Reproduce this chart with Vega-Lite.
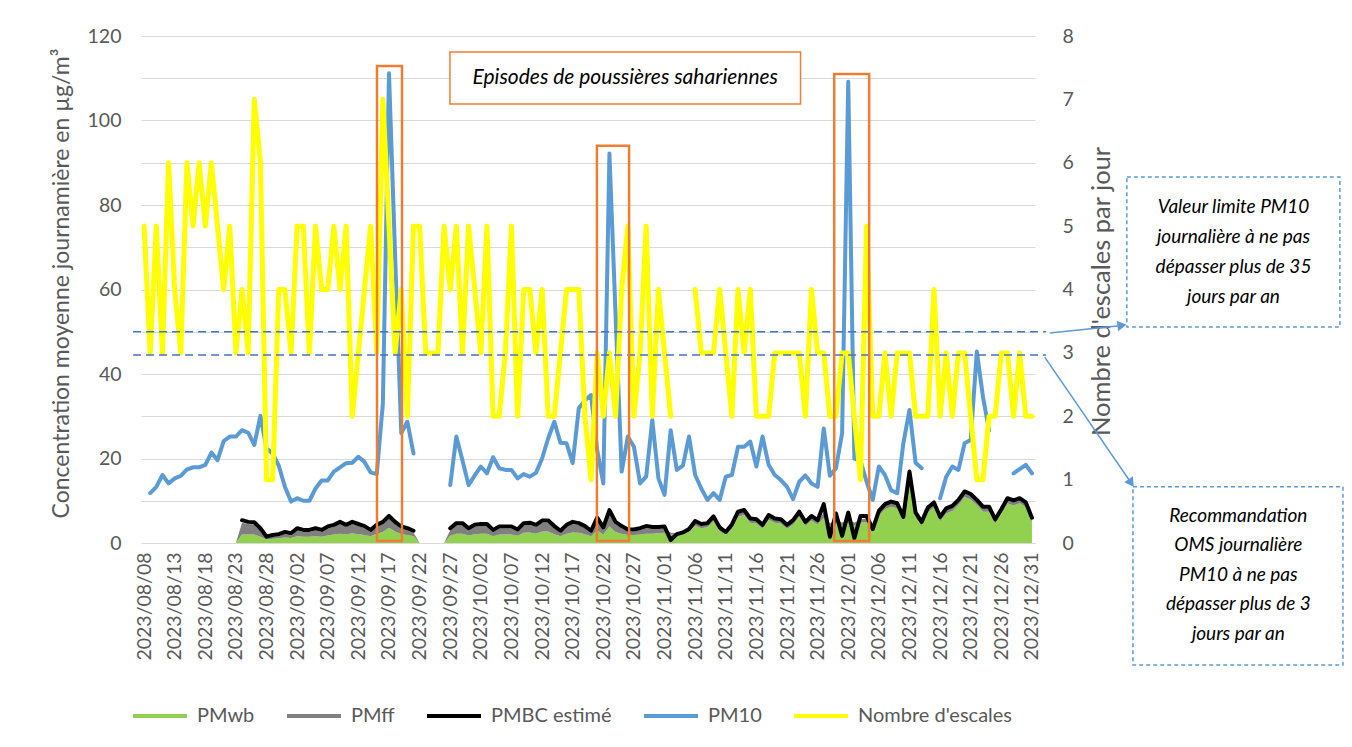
{
"$schema": "https://vega.github.io/schema/vega-lite/v6.json",
"width": 894, "height": 507,
"autosize": {"type": "none"},
"padding": {"left": 141, "top": 36, "right": 317, "bottom": 204},
"background": "white",
"config": {"font": "Lato", "view": {"stroke": null}},
"datasets": {"jours": [
{"d":"2023/08/08","PMwb":0,"PMff":0,"PMBC":null,"PM10":null,"esc":5},
{"d":"2023/08/09","PMwb":0,"PMff":0,"PMBC":null,"PM10":11.8,"esc":3},
{"d":"2023/08/10","PMwb":0,"PMff":0,"PMBC":null,"PM10":13.3,"esc":5},
{"d":"2023/08/11","PMwb":0,"PMff":0,"PMBC":null,"PM10":16.1,"esc":3},
{"d":"2023/08/12","PMwb":0,"PMff":0,"PMBC":null,"PM10":14.1,"esc":6},
{"d":"2023/08/13","PMwb":0,"PMff":0,"PMBC":null,"PM10":15.3,"esc":4},
{"d":"2023/08/14","PMwb":0,"PMff":0,"PMBC":null,"PM10":15.9,"esc":3},
{"d":"2023/08/15","PMwb":0,"PMff":0,"PMBC":null,"PM10":17.4,"esc":6},
{"d":"2023/08/16","PMwb":0,"PMff":0,"PMBC":null,"PM10":17.9,"esc":5},
{"d":"2023/08/17","PMwb":0,"PMff":0,"PMBC":null,"PM10":17.9,"esc":6},
{"d":"2023/08/18","PMwb":0,"PMff":0,"PMBC":null,"PM10":18.5,"esc":5},
{"d":"2023/08/19","PMwb":0,"PMff":0,"PMBC":null,"PM10":21.4,"esc":6},
{"d":"2023/08/20","PMwb":0,"PMff":0,"PMBC":null,"PM10":19.6,"esc":5},
{"d":"2023/08/21","PMwb":0,"PMff":0,"PMBC":null,"PM10":24.1,"esc":4},
{"d":"2023/08/22","PMwb":0,"PMff":0,"PMBC":null,"PM10":25.2,"esc":5},
{"d":"2023/08/23","PMwb":0,"PMff":0,"PMBC":null,"PM10":25.2,"esc":3},
{"d":"2023/08/24","PMwb":2.0,"PMff":2.8,"PMBC":5.4,"PM10":26.7,"esc":4},
{"d":"2023/08/25","PMwb":2.0,"PMff":2.5,"PMBC":5.0,"PM10":26.1,"esc":3},
{"d":"2023/08/26","PMwb":2.0,"PMff":2.4,"PMBC":4.9,"PM10":23.2,"esc":7},
{"d":"2023/08/27","PMwb":1.5,"PMff":1.5,"PMBC":3.5,"PM10":30.1,"esc":6},
{"d":"2023/08/28","PMwb":0.8,"PMff":0.3,"PMBC":1.5,"PM10":22.4,"esc":1},
{"d":"2023/08/29","PMwb":1.0,"PMff":0.5,"PMBC":1.9,"PM10":21.2,"esc":1},
{"d":"2023/08/30","PMwb":1.1,"PMff":0.6,"PMBC":2.1,"PM10":18.3,"esc":4},
{"d":"2023/08/31","PMwb":1.3,"PMff":0.8,"PMBC":2.6,"PM10":13.3,"esc":4},
{"d":"2023/09/01","PMwb":1.2,"PMff":0.6,"PMBC":2.3,"PM10":9.8,"esc":3},
{"d":"2023/09/02","PMwb":1.6,"PMff":1.4,"PMBC":3.5,"PM10":10.6,"esc":5},
{"d":"2023/09/03","PMwb":1.5,"PMff":1.1,"PMBC":3.1,"PM10":10.0,"esc":5},
{"d":"2023/09/04","PMwb":1.5,"PMff":1.1,"PMBC":3.1,"PM10":10.0,"esc":3},
{"d":"2023/09/05","PMwb":1.6,"PMff":1.4,"PMBC":3.5,"PM10":12.9,"esc":5},
{"d":"2023/09/06","PMwb":1.5,"PMff":1.1,"PMBC":3.1,"PM10":14.8,"esc":4},
{"d":"2023/09/07","PMwb":1.8,"PMff":1.6,"PMBC":3.9,"PM10":14.8,"esc":4},
{"d":"2023/09/08","PMwb":2.0,"PMff":1.8,"PMBC":4.3,"PM10":16.9,"esc":5},
{"d":"2023/09/09","PMwb":2.2,"PMff":2.3,"PMBC":5.0,"PM10":17.9,"esc":4},
{"d":"2023/09/10","PMwb":2.0,"PMff":1.8,"PMBC":4.3,"PM10":18.9,"esc":5},
{"d":"2023/09/11","PMwb":2.3,"PMff":2.2,"PMBC":5.0,"PM10":19.0,"esc":2},
{"d":"2023/09/12","PMwb":2.1,"PMff":1.9,"PMBC":4.5,"PM10":20.4,"esc":3},
{"d":"2023/09/13","PMwb":1.9,"PMff":1.6,"PMBC":4.0,"PM10":19.2,"esc":4},
{"d":"2023/09/14","PMwb":1.6,"PMff":1.0,"PMBC":3.1,"PM10":16.7,"esc":5},
{"d":"2023/09/15","PMwb":2.2,"PMff":1.6,"PMBC":4.3,"PM10":16.3,"esc":3},
{"d":"2023/09/16","PMwb":2.6,"PMff":1.9,"PMBC":5.0,"PM10":33.0,"esc":7},
{"d":"2023/09/17","PMwb":3.6,"PMff":2.3,"PMBC":6.4,"PM10":111.2,"esc":5},
{"d":"2023/09/18","PMwb":2.7,"PMff":1.8,"PMBC":5.0,"PM10":68.0,"esc":3},
{"d":"2023/09/19","PMwb":2.1,"PMff":1.3,"PMBC":3.9,"PM10":26.0,"esc":4},
{"d":"2023/09/20","PMwb":1.9,"PMff":1.1,"PMBC":3.5,"PM10":28.7,"esc":2},
{"d":"2023/09/21","PMwb":1.6,"PMff":0.8,"PMBC":2.9,"PM10":21.2,"esc":5},
{"d":"2023/09/22","PMwb":0,"PMff":0,"PMBC":null,"PM10":null,"esc":5},
{"d":"2023/09/23","PMwb":0,"PMff":0,"PMBC":null,"PM10":null,"esc":3},
{"d":"2023/09/24","PMwb":0,"PMff":0,"PMBC":null,"PM10":null,"esc":3},
{"d":"2023/09/25","PMwb":0,"PMff":0,"PMBC":null,"PM10":null,"esc":3},
{"d":"2023/09/26","PMwb":0,"PMff":0,"PMBC":null,"PM10":null,"esc":5},
{"d":"2023/09/27","PMwb":1.7,"PMff":1.3,"PMBC":3.5,"PM10":13.7,"esc":4},
{"d":"2023/09/28","PMwb":2.2,"PMff":2.0,"PMBC":4.7,"PM10":25.2,"esc":5},
{"d":"2023/09/29","PMwb":2.2,"PMff":2.0,"PMBC":4.7,"PM10":19.5,"esc":3},
{"d":"2023/09/30","PMwb":1.8,"PMff":1.2,"PMBC":3.5,"PM10":13.7,"esc":5},
{"d":"2023/10/01","PMwb":2.1,"PMff":1.7,"PMBC":4.3,"PM10":16.0,"esc":4},
{"d":"2023/10/02","PMwb":2.2,"PMff":1.8,"PMBC":4.5,"PM10":18.1,"esc":3},
{"d":"2023/10/03","PMwb":2.2,"PMff":1.8,"PMBC":4.5,"PM10":16.5,"esc":5},
{"d":"2023/10/04","PMwb":1.6,"PMff":1.0,"PMBC":3.1,"PM10":20.3,"esc":2},
{"d":"2023/10/05","PMwb":2.0,"PMff":1.4,"PMBC":3.9,"PM10":17.7,"esc":2},
{"d":"2023/10/06","PMwb":2.0,"PMff":1.4,"PMBC":3.9,"PM10":17.3,"esc":3},
{"d":"2023/10/07","PMwb":2.0,"PMff":1.4,"PMBC":3.9,"PM10":17.3,"esc":5},
{"d":"2023/10/08","PMwb":1.7,"PMff":1.0,"PMBC":3.2,"PM10":15.3,"esc":2},
{"d":"2023/10/09","PMwb":2.4,"PMff":1.8,"PMBC":4.7,"PM10":16.3,"esc":4},
{"d":"2023/10/10","PMwb":2.5,"PMff":1.8,"PMBC":4.8,"PM10":15.7,"esc":4},
{"d":"2023/10/11","PMwb":2.2,"PMff":1.6,"PMBC":4.3,"PM10":16.6,"esc":3},
{"d":"2023/10/12","PMwb":2.7,"PMff":2.1,"PMBC":5.3,"PM10":20.0,"esc":4},
{"d":"2023/10/13","PMwb":2.7,"PMff":2.1,"PMBC":5.3,"PM10":24.8,"esc":2},
{"d":"2023/10/14","PMwb":2.1,"PMff":1.4,"PMBC":4.0,"PM10":28.7,"esc":2},
{"d":"2023/10/15","PMwb":1.6,"PMff":0.8,"PMBC":2.9,"PM10":23.7,"esc":3},
{"d":"2023/10/16","PMwb":2.2,"PMff":1.6,"PMBC":4.3,"PM10":23.6,"esc":4},
{"d":"2023/10/17","PMwb":2.5,"PMff":2.0,"PMBC":5.0,"PM10":18.9,"esc":4},
{"d":"2023/10/18","PMwb":2.4,"PMff":1.8,"PMBC":4.7,"PM10":31.9,"esc":4},
{"d":"2023/10/19","PMwb":2.1,"PMff":1.4,"PMBC":4.0,"PM10":33.8,"esc":2},
{"d":"2023/10/20","PMwb":1.6,"PMff":0.8,"PMBC":2.9,"PM10":35.0,"esc":1},
{"d":"2023/10/21","PMwb":3.0,"PMff":2.5,"PMBC":6.0,"PM10":22.0,"esc":3},
{"d":"2023/10/22","PMwb":2.0,"PMff":1.2,"PMBC":3.7,"PM10":14.1,"esc":2},
{"d":"2023/10/23","PMwb":3.9,"PMff":3.4,"PMBC":7.8,"PM10":92.2,"esc":3},
{"d":"2023/10/24","PMwb":2.6,"PMff":1.9,"PMBC":5.0,"PM10":54.0,"esc":2},
{"d":"2023/10/25","PMwb":2.2,"PMff":1.3,"PMBC":4.0,"PM10":16.9,"esc":4},
{"d":"2023/10/26","PMwb":1.9,"PMff":0.8,"PMBC":3.2,"PM10":25.2,"esc":5},
{"d":"2023/10/27","PMwb":1.9,"PMff":0.8,"PMBC":3.2,"PM10":22.8,"esc":2},
{"d":"2023/10/28","PMwb":2.0,"PMff":1.0,"PMBC":3.5,"PM10":14.1,"esc":3},
{"d":"2023/10/29","PMwb":2.2,"PMff":1.3,"PMBC":4.0,"PM10":15.7,"esc":5},
{"d":"2023/10/30","PMwb":2.2,"PMff":1.1,"PMBC":3.8,"PM10":29.1,"esc":2},
{"d":"2023/10/31","PMwb":2.3,"PMff":1.0,"PMBC":3.8,"PM10":15.3,"esc":4},
{"d":"2023/11/01","PMwb":2.4,"PMff":1.0,"PMBC":3.9,"PM10":11.4,"esc":3},
{"d":"2023/11/02","PMwb":2.0,"PMff":0.4,"PMBC":0.7,"PM10":26.7,"esc":2},
{"d":"2023/11/03","PMwb":2.0,"PMff":0.3,"PMBC":2.1,"PM10":17.3,"esc":null},
{"d":"2023/11/04","PMwb":2.2,"PMff":0.3,"PMBC":2.5,"PM10":18.3,"esc":null},
{"d":"2023/11/05","PMwb":2.6,"PMff":0.4,"PMBC":3.3,"PM10":25.2,"esc":null},
{"d":"2023/11/06","PMwb":4.1,"PMff":0.7,"PMBC":5.2,"PM10":16.1,"esc":4},
{"d":"2023/11/07","PMwb":3.5,"PMff":0.6,"PMBC":4.5,"PM10":12.9,"esc":3},
{"d":"2023/11/08","PMwb":3.7,"PMff":0.6,"PMBC":4.7,"PM10":10.2,"esc":3},
{"d":"2023/11/09","PMwb":5.2,"PMff":0.7,"PMBC":6.3,"PM10":11.8,"esc":3},
{"d":"2023/11/10","PMwb":2.8,"PMff":0.5,"PMBC":3.7,"PM10":10.2,"esc":4},
{"d":"2023/11/11","PMwb":2.0,"PMff":0.4,"PMBC":2.6,"PM10":15.7,"esc":3},
{"d":"2023/11/12","PMwb":3.4,"PMff":0.6,"PMBC":4.4,"PM10":16.1,"esc":2},
{"d":"2023/11/13","PMwb":6.2,"PMff":0.8,"PMBC":7.4,"PM10":22.8,"esc":4},
{"d":"2023/11/14","PMwb":6.6,"PMff":0.8,"PMBC":7.8,"PM10":22.8,"esc":3},
{"d":"2023/11/15","PMwb":4.8,"PMff":0.6,"PMBC":5.8,"PM10":24.0,"esc":4},
{"d":"2023/11/16","PMwb":4.6,"PMff":0.6,"PMBC":5.6,"PM10":18.1,"esc":2},
{"d":"2023/11/17","PMwb":3.4,"PMff":0.5,"PMBC":4.3,"PM10":25.2,"esc":2},
{"d":"2023/11/18","PMwb":5.5,"PMff":0.7,"PMBC":6.6,"PM10":18.5,"esc":2},
{"d":"2023/11/19","PMwb":4.8,"PMff":0.6,"PMBC":5.8,"PM10":16.1,"esc":3},
{"d":"2023/11/20","PMwb":4.6,"PMff":0.6,"PMBC":5.6,"PM10":14.9,"esc":3},
{"d":"2023/11/21","PMwb":3.4,"PMff":0.5,"PMBC":4.3,"PM10":13.3,"esc":3},
{"d":"2023/11/22","PMwb":4.4,"PMff":0.6,"PMBC":5.4,"PM10":10.4,"esc":3},
{"d":"2023/11/23","PMwb":6.2,"PMff":0.8,"PMBC":7.4,"PM10":14.5,"esc":3},
{"d":"2023/11/24","PMwb":4.0,"PMff":0.6,"PMBC":5.0,"PM10":16.0,"esc":2},
{"d":"2023/11/25","PMwb":5.3,"PMff":0.7,"PMBC":6.4,"PM10":14.1,"esc":4},
{"d":"2023/11/26","PMwb":4.4,"PMff":0.6,"PMBC":5.4,"PM10":13.3,"esc":3},
{"d":"2023/11/27","PMwb":6.0,"PMff":1.2,"PMBC":9.2,"PM10":27.1,"esc":3},
{"d":"2023/11/28","PMwb":4.0,"PMff":0.6,"PMBC":1.5,"PM10":15.9,"esc":2},
{"d":"2023/11/29","PMwb":4.8,"PMff":0.8,"PMBC":7.0,"PM10":17.7,"esc":2},
{"d":"2023/11/30","PMwb":4.2,"PMff":0.6,"PMBC":1.7,"PM10":26.0,"esc":3},
{"d":"2023/12/01","PMwb":4.8,"PMff":0.8,"PMBC":7.2,"PM10":109.2,"esc":3},
{"d":"2023/12/02","PMwb":4.2,"PMff":0.6,"PMBC":1.2,"PM10":20.0,"esc":2},
{"d":"2023/12/03","PMwb":4.8,"PMff":0.8,"PMBC":6.4,"PM10":19.5,"esc":1},
{"d":"2023/12/04","PMwb":5.0,"PMff":0.8,"PMBC":6.4,"PM10":14.5,"esc":5},
{"d":"2023/12/05","PMwb":3.0,"PMff":0.5,"PMBC":3.3,"PM10":10.2,"esc":2},
{"d":"2023/12/06","PMwb":6.4,"PMff":0.8,"PMBC":7.6,"PM10":18.1,"esc":2},
{"d":"2023/12/07","PMwb":8.0,"PMff":0.8,"PMBC":9.2,"PM10":16.1,"esc":3},
{"d":"2023/12/08","PMwb":8.6,"PMff":0.8,"PMBC":9.8,"PM10":12.5,"esc":2},
{"d":"2023/12/09","PMwb":8.2,"PMff":0.8,"PMBC":9.4,"PM10":11.8,"esc":3},
{"d":"2023/12/10","PMwb":5.2,"PMff":0.6,"PMBC":6.2,"PM10":23.6,"esc":3},
{"d":"2023/12/11","PMwb":14.5,"PMff":1.8,"PMBC":16.9,"PM10":31.5,"esc":3},
{"d":"2023/12/12","PMwb":6.0,"PMff":0.8,"PMBC":7.2,"PM10":19.0,"esc":2},
{"d":"2023/12/13","PMwb":4.0,"PMff":0.6,"PMBC":5.0,"PM10":17.7,"esc":2},
{"d":"2023/12/14","PMwb":7.2,"PMff":0.8,"PMBC":8.4,"PM10":null,"esc":2},
{"d":"2023/12/15","PMwb":8.4,"PMff":0.8,"PMBC":9.6,"PM10":null,"esc":4},
{"d":"2023/12/16","PMwb":5.1,"PMff":0.7,"PMBC":6.2,"PM10":10.6,"esc":2},
{"d":"2023/12/17","PMwb":7.0,"PMff":0.8,"PMBC":8.2,"PM10":15.7,"esc":3},
{"d":"2023/12/18","PMwb":7.6,"PMff":0.8,"PMBC":8.8,"PM10":18.1,"esc":2},
{"d":"2023/12/19","PMwb":9.0,"PMff":0.8,"PMBC":10.2,"PM10":17.3,"esc":3},
{"d":"2023/12/20","PMwb":10.9,"PMff":0.9,"PMBC":12.2,"PM10":23.6,"esc":3},
{"d":"2023/12/21","PMwb":10.3,"PMff":0.9,"PMBC":11.6,"PM10":24.4,"esc":2},
{"d":"2023/12/22","PMwb":9.0,"PMff":0.8,"PMBC":10.2,"PM10":45.3,"esc":1},
{"d":"2023/12/23","PMwb":7.4,"PMff":0.8,"PMBC":8.6,"PM10":34.6,"esc":1},
{"d":"2023/12/24","PMwb":7.4,"PMff":0.8,"PMBC":8.6,"PM10":26.7,"esc":2},
{"d":"2023/12/25","PMwb":4.6,"PMff":0.6,"PMBC":5.6,"PM10":null,"esc":2},
{"d":"2023/12/26","PMwb":6.9,"PMff":0.7,"PMBC":8.0,"PM10":null,"esc":3},
{"d":"2023/12/27","PMwb":9.4,"PMff":0.8,"PMBC":10.6,"PM10":null,"esc":3},
{"d":"2023/12/28","PMwb":8.9,"PMff":0.8,"PMBC":10.1,"PM10":16.5,"esc":2},
{"d":"2023/12/29","PMwb":9.4,"PMff":0.8,"PMBC":10.6,"PM10":17.5,"esc":3},
{"d":"2023/12/30","PMwb":8.5,"PMff":0.7,"PMBC":9.6,"PM10":18.5,"esc":2},
{"d":"2023/12/31","PMwb":5.0,"PMff":0.6,"PMBC":6.0,"PM10":16.5,"esc":2}
]},
"layer": [
{
"data": {"name": "jours"},
"layer": [
{
"transform": [{"fold": ["PMwb", "PMff"], "as": ["serie", "valeur"]}],
"mark": {"type": "area", "opacity": 1, "interpolate": "linear"},
"encoding": {
"x": {"field": "d", "type": "ordinal", "scale": {"type": "point", "padding": 0.5},
"axis": {"values": ["2023/08/08","2023/08/13","2023/08/18","2023/08/23","2023/08/28","2023/09/02","2023/09/07","2023/09/12","2023/09/17","2023/09/22","2023/09/27","2023/10/02","2023/10/07","2023/10/12","2023/10/17","2023/10/22","2023/10/27","2023/11/01","2023/11/06","2023/11/11","2023/11/16","2023/11/21","2023/11/26","2023/12/01","2023/12/06","2023/12/11","2023/12/16","2023/12/21","2023/12/26","2023/12/31"],
"labelAngle": 270, "labelAlign": "right", "labelBaseline": "middle",
"labelFontSize": 19.5, "labelColor": "#595959", "labelFont": "Lato", "labelPadding": 9,
"ticks": false, "grid": false, "domainColor": "#d9d9d9", "domainWidth": 1, "title": null,
"labelOverlap": false, "labelFlush": false, "labelBound": false, "labelLimit": 300}},
"y": {"field": "valeur", "type": "quantitative", "stack": "zero",
"scale": {"domain": [0, 120], "nice": false},
"axis": {"orient": "left", "values": [0,5,10,15,20,25,30,35,40,45,50,55,60,65,70,75,80,85,90,95,100,105,110,115,120],
"labelExpr": "datum.value % 20 == 0 ? datum.label : ''",
"domain": false, "ticks": false, "grid": true,
"gridColor": {"condition": {"test": "datum.value % 10 == 0", "value": "#d9d9d9"}, "value": "#f0f0f0"},
"gridWidth": 1, "labelFontSize": 19.5, "labelColor": "#595959", "labelFont": "Lato", "labelPadding": 20,
"title": "Concentration moyenne journamière en µg/m³", "titleFont": "Lato", "titleFontSize": 23,
"titleFontWeight": "normal", "titleColor": "#595959", "titleAngle": 270, "titleX": -80, "titleY": 247,
"titleBaseline": "middle", "titleAlign": "center"}},
"color": {"field": "serie", "type": "nominal",
"scale": {"domain": ["PMwb", "PMff", "PMBC estimé", "PM10", "Nombre d'escales"], "range": ["#92d050", "#808080", "#000000", "#5b9bd5", "#ffff00"]},
"legend": {"orient": "none", "legendX": -10, "legendY": 651, "direction": "horizontal", "title": null,
"symbolSize": 2916, "symbolType": "stroke", "symbolStrokeWidth": 4,
"labelFontSize": 20, "labelFont": "Lato", "labelColor": "#595959", "labelOffset": 8, "labelLimit": 400,
"columnPadding": 24, "padding": 0,
"encode": {"symbols": {"update": {
"shape": {"signal": "(datum.value === 'PMwb' || datum.value === 'PMff') ? 'M-1,-0.26L1,-0.26L1,0.26L-1,0.26Z' : 'stroke'"},
"fill": {"signal": "(datum.value === 'PMwb' || datum.value === 'PMff') ? scale('color', datum.value) : 'transparent'"},
"stroke": {"signal": "(datum.value === 'PMwb' || datum.value === 'PMff') ? 'transparent' : scale('color', datum.value)"},
"strokeWidth": {"signal": "(datum.value === 'PMwb' || datum.value === 'PMff') ? 0 : 4"},
"opacity": {"value": 1}}}}}},
"order": {"field": "serie", "sort": "descending"}
}
},
{
"mark": {"type": "line", "strokeWidth": 4, "strokeJoin": "round", "strokeCap": "round", "invalid": "break-paths-show-domains"},
"encoding": {
"x": {"field": "d", "type": "ordinal"},
"y": {"field": "PMBC", "type": "quantitative"},
"color": {"datum": "PMBC estimé", "type": "nominal"}
}
},
{
"mark": {"type": "line", "strokeWidth": 4, "strokeJoin": "round", "strokeCap": "round", "invalid": "break-paths-show-domains"},
"encoding": {
"x": {"field": "d", "type": "ordinal"},
"y": {"field": "PM10", "type": "quantitative"},
"color": {"datum": "PM10", "type": "nominal"}
}
}
]
},
{
"data": {"name": "jours"},
"mark": {"type": "line", "strokeWidth": 5, "strokeJoin": "round", "strokeCap": "round", "invalid": "break-paths-show-domains"},
"encoding": {
"x": {"field": "d", "type": "ordinal", "axis": null, "scale": {"type": "point", "padding": 0.5}},
"y": {"field": "esc", "type": "quantitative", "scale": {"domain": [0, 8], "nice": false},
"axis": {"orient": "right", "values": [0,1,2,3,4,5,6,7,8], "domain": false, "ticks": false, "grid": false,
"labelFontSize": 19.5, "labelColor": "#595959", "labelFont": "Lato", "labelPadding": 27,
"title": "Nombre d'escales par jour", "titleFont": "Lato", "titleFontSize": 25.5, "titleFontWeight": "normal",
"titleColor": "#595959", "titleAngle": 270, "titleX": 66, "titleY": 255, "titleBaseline": "middle", "titleAlign": "center"}},
"color": {"datum": "Nombre d'escales", "type": "nominal"}
}
},
{
"data": {"values": [{}]},
"layer": [
{"mark": {"type": "rule", "stroke": "#4472c4", "strokeWidth": 1.5, "strokeDash": [8, 5]},
"encoding": {"x": {"datum": {"year":2023,"month":8,"date":6,"hours":5}, "type": "temporal", "axis": null,
"scale": {"domain": [{"year":2023,"month":8,"date":7,"hours":12},{"year":2023,"month":12,"date":31,"hours":12}]}},
"x2": {"datum": {"year":2024,"month":1,"date":2,"hours":7}},
"y": {"datum": 50, "type": "quantitative", "scale": {"domain": [0,120], "nice": false}, "axis": null}}},
{"mark": {"type": "rule", "stroke": "#4472c4", "strokeWidth": 1.5, "strokeDash": [8, 5]},
"encoding": {"x": {"datum": {"year":2023,"month":8,"date":6,"hours":5}, "type": "temporal", "axis": null},
"x2": {"datum": {"year":2024,"month":1,"date":2,"hours":7}},
"y": {"datum": 44.5, "type": "quantitative", "scale": {"domain": [0,120], "nice": false}, "axis": null}}},
{"mark": {"type": "rect", "fillOpacity": 0, "stroke": "#ed7d31", "strokeWidth": 2.5},
"encoding": {"x": {"datum": {"year":2023,"month":9,"date":15,"hours":1}, "type": "temporal", "axis": null},
"x2": {"datum": {"year":2023,"month":9,"date":19,"hours":3}},
"y": {"datum": 0.5, "type": "quantitative", "scale": {"domain": [0,120], "nice": false}, "axis": null},
"y2": {"datum": 112.9}}},
{"mark": {"type": "rect", "fillOpacity": 0, "stroke": "#ed7d31", "strokeWidth": 2.5},
"encoding": {"x": {"datum": {"year":2023,"month":10,"date":20,"hours":23}, "type": "temporal", "axis": null},
"x2": {"datum": {"year":2023,"month":10,"date":26,"hours":5}},
"y": {"datum": 0.5, "type": "quantitative", "scale": {"domain": [0,120], "nice": false}, "axis": null},
"y2": {"datum": 94.0}}},
{"mark": {"type": "rect", "fillOpacity": 0, "stroke": "#ed7d31", "strokeWidth": 2.5},
"encoding": {"x": {"datum": {"year":2023,"month":11,"date":28,"hours":17}, "type": "temporal", "axis": null},
"x2": {"datum": {"year":2023,"month":12,"date":4,"hours":10}},
"y": {"datum": 0.5, "type": "quantitative", "scale": {"domain": [0,120], "nice": false}, "axis": null},
"y2": {"datum": 111.0}}},
{"mark": {"type": "rect", "fill": "white", "stroke": "#ed7d31", "strokeWidth": 1.5},
"encoding": {"x": {"datum": {"year":2023,"month":9,"date":26,"hours":23}, "type": "temporal", "axis": null},
"x2": {"datum": {"year":2023,"month":11,"date":23,"hours":5}},
"y": {"datum": 116.2, "type": "quantitative", "scale": {"domain": [0,120], "nice": false}, "axis": null},
"y2": {"datum": 103.9}}},
{"mark": {"type": "text", "text": "Episodes de poussières sahariennes", "font": "Lato", "fontStyle": "italic", "fontSize": 21, "color": "#000000", "align": "center", "baseline": "middle"},
"encoding": {"x": {"datum": {"year":2023,"month":10,"date":25,"hours":14}, "type": "temporal", "axis": null},
"y": {"datum": 110, "type": "quantitative", "scale": {"domain": [0,120], "nice": false}, "axis": null}}},
{"mark": {"type": "rect", "fill": "white", "stroke": "#5b9bd5", "strokeWidth": 1.5, "strokeDash": [4, 3]},
"encoding": {"x": {"datum": {"year":2024,"month":1,"date":15,"hours":12}, "type": "temporal", "axis": null},
"x2": {"datum": {"year":2024,"month":2,"date":19,"hours":7}},
"y": {"datum": 86.6, "type": "quantitative", "scale": {"domain": [0,120], "nice": false}, "axis": null},
"y2": {"datum": 51.1}}},
{"mark": {"type": "text", "text": ["Valeur limite PM10", "journalière à ne pas", "dépasser plus de 35", "jours par an"], "font": "Lato", "fontStyle": "italic", "fontSize": 19, "lineHeight": 30, "color": "#000000", "align": "center", "baseline": "middle"},
"encoding": {"x": {"datum": {"year":2024,"month":2,"date":1,"hours":22}, "type": "temporal", "axis": null},
"y": {"datum": 79.5, "type": "quantitative", "scale": {"domain": [0,120], "nice": false}, "axis": null}}},
{"mark": {"type": "rect", "fill": "white", "stroke": "#5b9bd5", "strokeWidth": 1.5, "strokeDash": [4, 3]},
"encoding": {"x": {"datum": {"year":2024,"month":1,"date":16,"hours":12}, "type": "temporal", "axis": null},
"x2": {"datum": {"year":2024,"month":2,"date":19,"hours":19}},
"y": {"datum": 13.3, "type": "quantitative", "scale": {"domain": [0,120], "nice": false}, "axis": null},
"y2": {"datum": -28.9}}},
{"mark": {"type": "text", "text": ["Recommandation", "OMS journalière", "PM10 à ne pas", "dépasser plus de 3", "jours par an"], "font": "Lato", "fontStyle": "italic", "fontSize": 19, "lineHeight": 29.5, "color": "#000000", "align": "center", "baseline": "middle"},
"encoding": {"x": {"datum": {"year":2024,"month":2,"date":2,"hours":17}, "type": "temporal", "axis": null},
"y": {"datum": 6.4, "type": "quantitative", "scale": {"domain": [0,120], "nice": false}, "axis": null}}},
{"mark": {"type": "rule", "stroke": "#5b9bd5", "strokeWidth": 1.5},
"encoding": {"x": {"datum": {"year":2024,"month":1,"date":2,"hours":22}, "type": "temporal", "axis": null},
"x2": {"datum": {"year":2024,"month":1,"date":14,"hours":17}},
"y": {"datum": 49.7, "type": "quantitative", "scale": {"domain": [0,120], "nice": false}, "axis": null},
"y2": {"datum": 51.5}}},
{"mark": {"type": "point", "shape": "triangle-right", "size": 110, "filled": true, "color": "#5b9bd5", "opacity": 1, "angle": -7},
"encoding": {"x": {"datum": {"year":2024,"month":1,"date":14,"hours":17}, "type": "temporal", "axis": null},
"y": {"datum": 51.5, "type": "quantitative", "scale": {"domain": [0,120], "nice": false}, "axis": null}}},
{"mark": {"type": "rule", "stroke": "#5b9bd5", "strokeWidth": 1.5},
"encoding": {"x": {"datum": {"year":2024,"month":1,"date":2,"hours":2}, "type": "temporal", "axis": null},
"x2": {"datum": {"year":2024,"month":1,"date":16,"hours":5}},
"y": {"datum": 44.0, "type": "quantitative", "scale": {"domain": [0,120], "nice": false}, "axis": null},
"y2": {"datum": 14.2}}},
{"mark": {"type": "point", "shape": "triangle-right", "size": 110, "filled": true, "color": "#5b9bd5", "opacity": 1, "angle": 56},
"encoding": {"x": {"datum": {"year":2024,"month":1,"date":16,"hours":5}, "type": "temporal", "axis": null},
"y": {"datum": 14.2, "type": "quantitative", "scale": {"domain": [0,120], "nice": false}, "axis": null}}}
]
}
],
"resolve": {"scale": {"y": "independent", "x": "independent"}}
}
